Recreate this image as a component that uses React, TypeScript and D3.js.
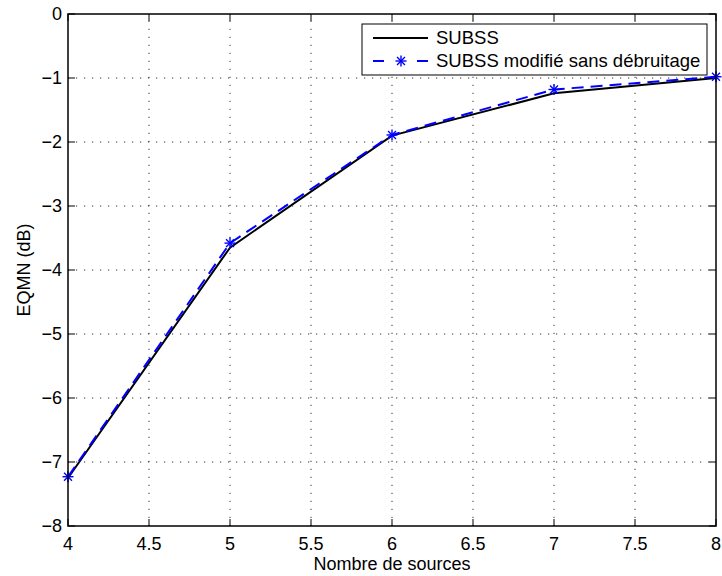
import React from "react";
import * as d3 from "d3";

const xValues = [4, 5, 6, 7, 8];
const subss = [-7.25, -3.65, -1.9, -1.24, -1.0];
const subssMod = [-7.23, -3.58, -1.89, -1.18, -0.98];
const xTicks = [4, 4.5, 5, 5.5, 6, 6.5, 7, 7.5, 8];
const yTicks = [0, -1, -2, -3, -4, -5, -6, -7, -8];
const seriesNames = ["SUBSS", "SUBSS modifié sans débruitage"];
const xLabel = "Nombre de sources";
const yLabel = "EQMN (dB)";

const W = 722;
const H = 576;
const L = 68, R = 716, T = 14, B = 526;
const FONT = "'Liberation Sans', Arial, Helvetica, sans-serif";

function fmt(v: number) {
  const s = String(Math.abs(v));
  return v < 0 ? "\u2212" + s : s;
}

function Star({ x, y, r = 5.5 }: { x: number; y: number; r?: number }) {
  const d = r * 0.72;
  return (
    <g stroke="#0000ff" strokeWidth={1.4}>
      <line x1={x - r} y1={y} x2={x + r} y2={y} />
      <line x1={x} y1={y - r} x2={x} y2={y + r} />
      <line x1={x - d} y1={y - d} x2={x + d} y2={y + d} />
      <line x1={x - d} y1={y + d} x2={x + d} y2={y - d} />
    </g>
  );
}

export default function App() {
  const x = d3.scaleLinear().domain([4, 8]).range([L, R]);
  const y = d3.scaleLinear().domain([-8, 0]).range([B, T]);
  const line = d3
    .line<number>()
    .x((_, i) => x(xValues[i]))
    .y((d) => y(d));

  const tickLen = 7;
  return (
    <svg
      width={W}
      height={H}
      style={{ position: "absolute", left: 0, top: 0, background: "#fff" }}
      fontFamily={FONT}
    >
      <rect x={0} y={0} width={W} height={H} fill="#fff" />
      {/* grid */}
      <g stroke="#333" strokeWidth={1} strokeDasharray="1.2,6.8">
        {xTicks.slice(1, -1).map((t) => (
          <line key={"gx" + t} x1={x(t)} x2={x(t)} y1={B} y2={T} />
        ))}
        {yTicks.slice(1, -1).map((t) => (
          <line key={"gy" + t} x1={L} x2={R} y1={y(t)} y2={y(t)} />
        ))}
      </g>
      {/* ticks */}
      <g stroke="#000" strokeWidth={1}>
        {xTicks.map((t) => (
          <g key={"tx" + t}>
            <line x1={x(t)} x2={x(t)} y1={B} y2={B - tickLen} />
            <line x1={x(t)} x2={x(t)} y1={T} y2={T + tickLen} />
          </g>
        ))}
        {yTicks.map((t) => (
          <g key={"ty" + t}>
            <line x1={L} x2={L + tickLen} y1={y(t)} y2={y(t)} />
            <line x1={R} x2={R - tickLen} y1={y(t)} y2={y(t)} />
          </g>
        ))}
      </g>
      {/* data */}
      <path d={line(subss) || ""} fill="none" stroke="#000" strokeWidth={2} />
      <path
        d={line(subssMod) || ""}
        fill="none"
        stroke="#0000ff"
        strokeWidth={2}
        strokeDasharray="12,7"
      />
      {subssMod.map((v, i) => (
        <Star key={"s" + i} x={x(xValues[i])} y={y(v)} />
      ))}
      {/* frame */}
      <rect x={L} y={T} width={R - L} height={B - T} fill="none" stroke="#000" strokeWidth={1.5} />
      {/* tick labels */}
      <g fontSize={18} fill="#000">
        {xTicks.map((t) => (
          <text key={"lx" + t} x={x(t)} y={550} textAnchor="middle">
            {fmt(t)}
          </text>
        ))}
        {yTicks.map((t) => (
          <text key={"ly" + t} x={62} y={y(t)} dy="0.35em" textAnchor="end">
            {fmt(t)}
          </text>
        ))}
      </g>
      <text x={(L + R) / 2} y={570} textAnchor="middle" fontSize={18}>
        {xLabel}
      </text>
      <text
        transform={`translate(30,${(T + B) / 2}) rotate(-90)`}
        textAnchor="middle"
        fontSize={18}
      >
        {yLabel}
      </text>
      {/* legend */}
      <g>
        <rect x={362} y={24} width={345} height={51} fill="#fff" stroke="#000" strokeWidth={1} />
        <line x1={373} x2={428} y1={38} y2={38} stroke="#000" strokeWidth={2} />
        <text x={436} y={38} dy="0.35em" fontSize={18.5}>
          {seriesNames[0]}
        </text>
        <line
          x1={373}
          x2={428}
          y1={61}
          y2={61}
          stroke="#0000ff"
          strokeWidth={2}
          strokeDasharray="11,33"
        />
        <Star x={401} y={61} />
        <text x={436} y={61} dy="0.35em" fontSize={18.5}>
          {seriesNames[1]}
        </text>
      </g>
    </svg>
  );
}
